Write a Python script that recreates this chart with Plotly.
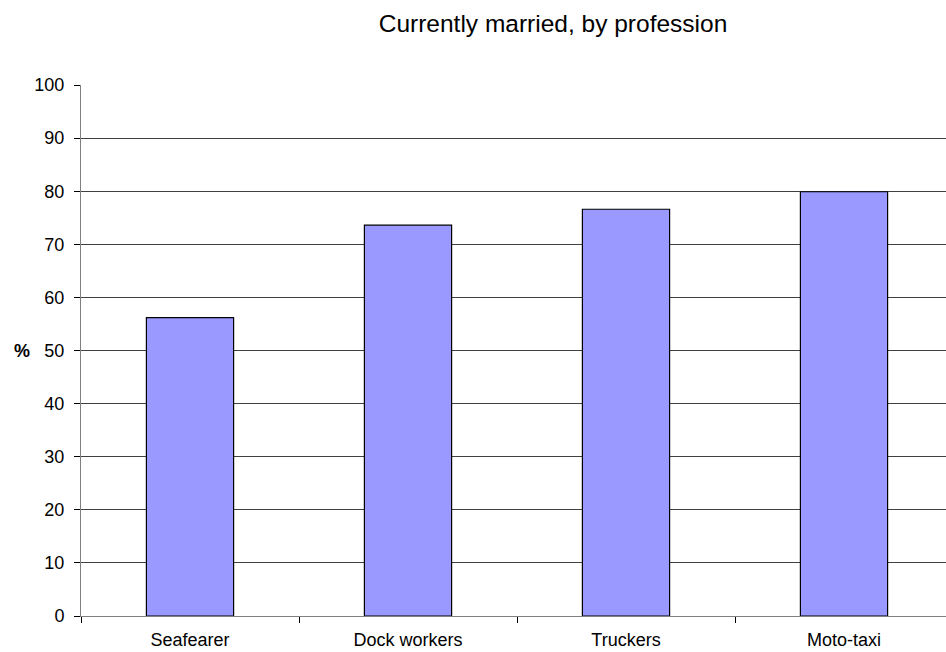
import plotly.graph_objects as go

# Share of respondents currently married, per profession (%)
professions = ["Seafearer", "Dock workers", "Truckers", "Moto-taxi"]
married_pct = [56.2, 73.6, 76.6, 79.9]
y_ticks = [0, 10, 20, 30, 40, 50, 60, 70, 80, 90, 100]

W, H = 946, 652
left, right, top, bottom = 81, 0, 84.5, 36.3

fig = go.Figure(
    go.Bar(
        x=professions,
        y=married_pct,
        marker=dict(color="#9999FF", line=dict(color="#000000", width=1.2)),
        hoverinfo="x+y",
    )
)

fig.update_layout(
    width=W,
    height=H,
    margin=dict(l=left, r=right, t=top, b=bottom, pad=0),
    paper_bgcolor="white",
    plot_bgcolor="white",
    bargap=0.6,
    showlegend=False,
    font=dict(family="Liberation Sans, Arial, sans-serif", size=18, color="#000"),
    title=dict(
        text="Currently married, by profession",
        font=dict(size=24.5, color="#000"),
        x=553 / W,
        xref="container",
        xanchor="center",
        y=1 - 23 / H,
        yref="container",
        yanchor="middle",
    ),
    annotations=[
        dict(
            text="<b>%</b>",
            xref="paper",
            yref="paper",
            x=-(left - 22) / (W - left - right),
            y=0.5,
            xanchor="center",
            yanchor="middle",
            showarrow=False,
            font=dict(size=18, color="#000"),
        )
    ],
)

fig.update_xaxes(
    type="category",
    range=[-0.5, -0.5 + (W - left - right) / 218.0],
    showline=True,
    linecolor="#808080",
    linewidth=1,
    ticks="outside",
    tickson="boundaries",
    ticklen=6,
    tickcolor="#000",
    tickwidth=1,
    showgrid=False,
    ticklabelstandoff=7,
    tickfont=dict(size=18),
)

fig.update_yaxes(
    range=[0, 100],
    tickmode="array",
    tickvals=y_ticks,
    ticktext=[str(v) for v in y_ticks],
    showline=True,
    linecolor="#808080",
    linewidth=1,
    ticks="outside",
    ticklen=6,
    tickcolor="#000",
    tickwidth=1,
    showgrid=True,
    gridcolor="#404040",
    gridwidth=1,
    zeroline=False,
    ticklabelstandoff=6,
    tickfont=dict(size=18),
)

fig.write_html("out.html")
